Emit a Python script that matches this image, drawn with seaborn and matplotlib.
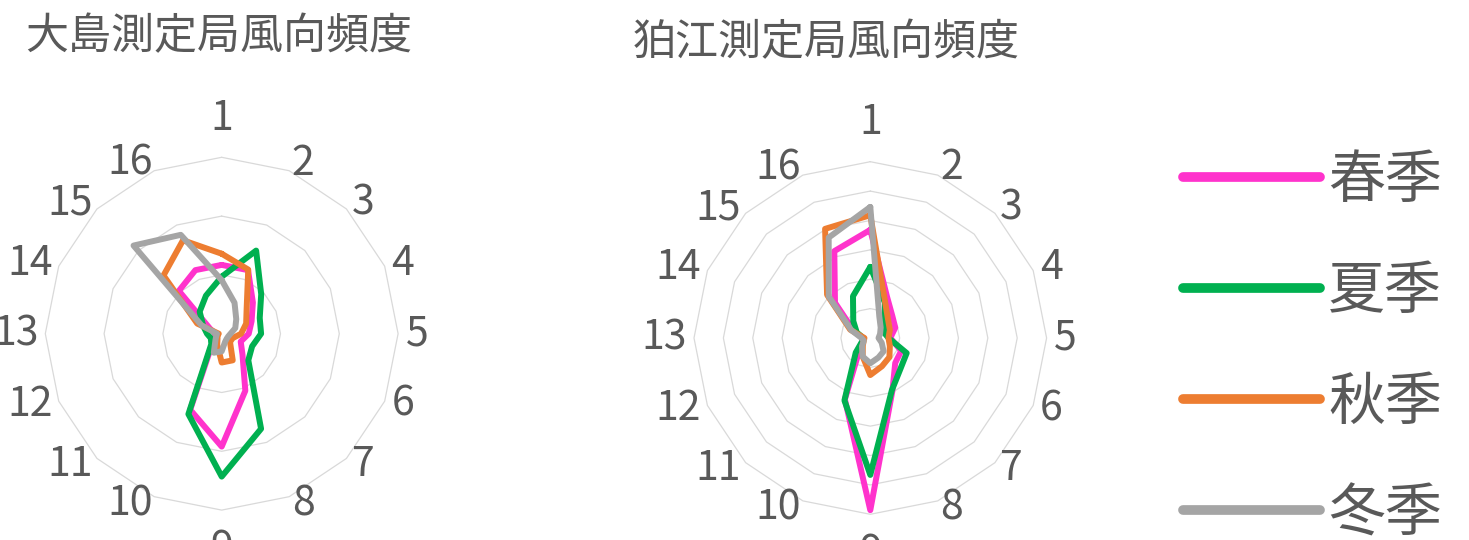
import numpy as np
import pandas as pd
import matplotlib
matplotlib.use("Agg")
import matplotlib.pyplot as plt
from matplotlib.lines import Line2D
import seaborn as sns

# 16 wind directions (1 = north, clockwise)
directions = [str(i) for i in range(1, 17)]
seasons = ["春季", "夏季", "秋季", "冬季"]
season_colors = ["#FF33CC", "#00B050", "#ED7D31", "#A5A5A5"]

# Wind direction frequency (%) – Oshima station
oshima_spring = [11.7, 11.7, 7.5, 5.5, 4.6, 3.5, 5.0, 10.5, 19.2, 14.0, 2.2, 1.2, 1.0, 2.1, 10.3, 11.7]
oshima_summer = [9.7, 15.3, 9.5, 7.0, 6.7, 5.6, 6.4, 17.5, 24.3, 14.8, 2.5, 2.0, 2.5, 3.4, 5.3, 7.0]
oshima_autumn = [13.6, 11.8, 6.0, 4.5, 3.3, 2.0, 2.0, 4.9, 4.9, 2.0, 1.0, 0.8, 0.5, 4.5, 14.0, 17.2]
oshima_winter = [9.1, 5.7, 3.5, 2.5, 1.5, 1.2, 1.2, 1.5, 3.0, 3.5, 1.5, 1.0, 0.8, 3.7, 21.2, 18.2]

# Wind direction frequency (%) – Komae station
komae_spring = [18.4, 7.5, 5.3, 4.6, 3.4, 5.7, 6.0, 9.8, 29.3, 11.3, 2.5, 1.5, 1.2, 3.0, 8.5, 16.0]
komae_summer = [12.1, 6.5, 3.5, 2.5, 3.1, 6.7, 7.3, 9.6, 23.3, 11.5, 3.5, 1.5, 1.2, 2.5, 4.1, 7.7]
komae_autumn = [20.9, 6.6, 4.3, 3.6, 3.1, 3.6, 4.6, 5.2, 6.3, 3.4, 1.8, 1.2, 1.0, 3.7, 10.4, 20.1]
komae_winter = [22.3, 4.0, 2.5, 1.8, 1.4, 2.1, 3.2, 3.6, 4.3, 3.4, 2.0, 1.2, 1.5, 3.5, 10.0, 18.5]

oshima_rings = [10, 20, 30]
komae_rings = [5, 10, 15, 20, 25, 30]
r_max = 30

sns.set_theme(style="white")
plt.rcParams["font.family"] = ["Noto Sans CJK JP", "DejaVu Sans"]

W, H = 1469, 540
fig = plt.figure(figsize=(W / 100, H / 100), dpi=100)
text_color = "#595959"
DIGIT_W = 21.5   # approximate pixel width of one digit of the category labels


def long_frame(series):
    theta = np.linspace(0, 2 * np.pi, len(directions), endpoint=False)
    rows = []
    for name, vals in zip(seasons, series):
        th = np.append(theta, 2 * np.pi)
        vv = np.append(vals, vals[0])
        rows.append(pd.DataFrame({"theta": th, "value": vv, "season": name}))
    return pd.concat(rows, ignore_index=True)


def radar(cx, cy, R, series, rings, title, title_xy):
    ax = fig.add_axes([(cx - R) / W, (H - cy - R) / H, 2 * R / W, 2 * R / H],
                      projection="polar")
    ax.set_theta_zero_location("N")
    ax.set_theta_direction(-1)
    ax.set_ylim(0, r_max)
    ax.grid(False)
    ax.spines["polar"].set_visible(False)
    ax.set_xticks([])
    ax.set_yticks([])
    ax.set_facecolor("none")

    theta = np.linspace(0, 2 * np.pi, len(directions), endpoint=False)
    th_closed = np.append(theta, 2 * np.pi)
    for lev in rings:
        ax.plot(th_closed, [lev] * len(th_closed), color="#D9D9D9", lw=0.9,
                clip_on=False, zorder=1)

    df = long_frame(series)
    sns.lineplot(data=df, x="theta", y="value", hue="season", hue_order=seasons,
                 palette=dict(zip(seasons, season_colors)), sort=False,
                 estimator=None, lw=4.3, legend=False, ax=ax, zorder=3)
    ax.set_xlabel("")
    ax.set_ylabel("")

    # category labels: anchored just outside the outer ring, pushed sideways
    # by half their width (or vertically for the top/bottom ones)
    for i, lab in enumerate(directions):
        t = theta[i]
        sx, sy = np.sin(t), np.cos(t)
        dx, dy = (R + 8) * sx, (R + 8) * sy
        if abs(sx) < 1e-6:
            dy += np.sign(sy) * 31
        else:
            dx += np.sign(sx) * len(lab) * DIGIT_W / 2
        r_lab = np.hypot(dx, dy) / R * r_max
        t_lab = np.arctan2(dx, dy)
        ax.text(t_lab, r_lab, lab, ha="center", va="center",
                fontsize=29.5, color=text_color, clip_on=False)

    fig.text(title_xy[0] / W, 1 - title_xy[1] / H, title, ha="left", va="center",
             fontsize=31, color=text_color)
    return ax


radar(221.7, 333.7, 176.4,
      [oshima_spring, oshima_summer, oshima_autumn, oshima_winter],
      oshima_rings, "大島測定局風向頻度", (25, 37))
radar(870.3, 338.0, 176.3,
      [komae_spring, komae_summer, komae_autumn, komae_winter],
      komae_rings, "狛江測定局風向頻度", (633, 43))

handles = [Line2D([0], [0], color=c, lw=7, solid_capstyle="round") for c in season_colors]
fig.legend(handles, seasons, loc="center left", bbox_to_anchor=(1183 / W, 1 - 347.5 / H),
           frameon=False, fontsize=41, handlelength=2.4, handletextpad=0.15,
           labelspacing=0.92, borderpad=0, borderaxespad=0, labelcolor=text_color)

fig.savefig("out.png", dpi=100, facecolor="white")
